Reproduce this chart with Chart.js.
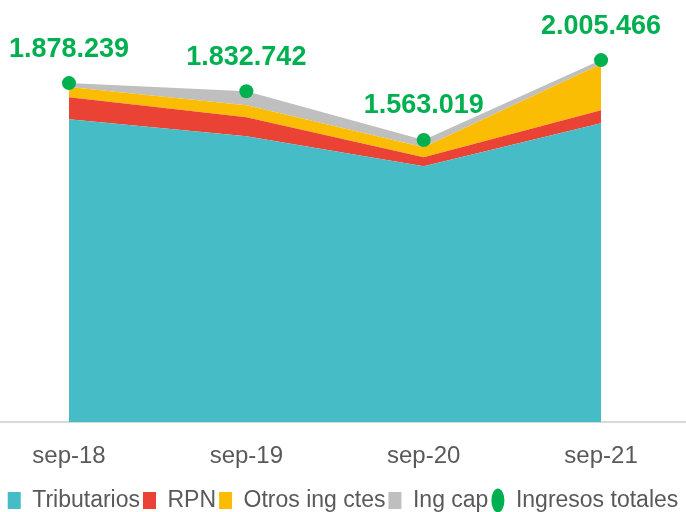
<!DOCTYPE html>
<html>
<head>
<meta charset="utf-8">
<script src="https://cdn.jsdelivr.net/npm/chart.js@4/dist/chart.umd.min.js"></script>
<style>
  html, body { margin: 0; padding: 0; background: #fff; }
  #wrap { width: 686px; height: 512px; }
</style>
</head>
<body>
<div id="wrap"><canvas id="chart"></canvas></div>
<script>
let labels = ['sep-18', 'sep-19', 'sep-20', 'sep-21']

let tributarios = [1678000, 1584000, 1417000, 1656000]
let rpn = [122000, 105000, 50000, 72000]
let otros = [56000, 67000, 56000, 256000]
let ingCap = [22239, 76742, 40019, 21466]
let totales = [1878239, 1832742, 1563019, 2005466]

let ctx = document.getElementById('chart')

function pts(arr) {
    return arr.map((v, i) => ({ x: i, y: v }))
}

function fmt(n) {
    return String(n).replace(/\B(?=(\d{3})+(?!\d))/g, '.')
}

const totalLabels = {
    id: 'totalLabels',
    afterDatasetsDraw(chart) {
        let meta = chart.getDatasetMeta(4)
        let c = chart.ctx
        c.save()
        c.font = 'bold 27px "Liberation Sans", Arial, sans-serif'
        c.fillStyle = '#00B050'
        c.textAlign = 'center'
        c.textBaseline = 'middle'
        meta.data.forEach((el, i) => {
            c.fillText(fmt(totales[i]), el.x, el.y - 34)
        })
        c.restore()
    }
}

function area(label, arr, color, fill) {
    return {
        label: label,
        data: pts(arr),
        backgroundColor: color,
        borderColor: color,
        borderWidth: 0,
        pointRadius: 0,
        pointStyle: 'rect',
        fill: fill,
        stack: 'a',
        tension: 0
    }
}

new Chart(ctx, {
    type: 'line',
    data: {
        datasets: [
            area('Tributarios', tributarios, '#46BDC6', 'origin'),
            area('RPN', rpn, '#EA4335', '-1'),
            area('Otros ing ctes', otros, '#FBBC04', '-1'),
            area('Ing cap', ingCap, '#BFBFBF', '-1'),
            {
                label: 'Ingresos totales',
                data: pts(totales),
                showLine: false,
                pointRadius: 7,
                pointStyle: 'circle',
                backgroundColor: '#00B050',
                borderColor: '#00B050',
                borderWidth: 0,
                fill: false,
                stack: 'tot',
                order: -1
            }
        ]
    },
    options: {
        responsive: true,
        maintainAspectRatio: false,
        animation: false,
        layout: { autoPadding: false, padding: { top: 25, left: 0, right: 0, bottom: -10 } },
        plugins: {
            tooltip: { enabled: false },
            legend: {
                position: 'bottom',
                labels: {
                    usePointStyle: true,
                    pointStyleWidth: 13,
                    boxHeight: 17,
                    padding: 3,
                    color: '#595959',
                    font: { family: '"Liberation Sans", Arial, sans-serif', size: 23 },
                    sort: (a, b) => a.datasetIndex - b.datasetIndex
                }
            }
        },
        scales: {
            x: {
                type: 'linear',
                min: -0.389,
                max: 3.479,
                grid: { display: false },
                border: { display: true, color: '#D9D9D9', width: 2 },
                afterBuildTicks: (scale) => {
                    scale.ticks = labels.map((l, i) => ({ value: i }))
                },
                afterFit: (scale) => {
                    scale.paddingLeft = 0
                    scale.paddingRight = 0
                    scale.height += 3
                },
                ticks: {
                    autoSkip: false,
                    maxRotation: 0,
                    padding: 12,
                    color: '#595959',
                    font: { family: '"Liberation Sans", Arial, sans-serif', size: 24 },
                    callback: (v) => labels[v] !== undefined ? labels[v] : ''
                }
            },
            y: {
                display: false,
                stacked: true,
                min: 0,
                max: 2200000
            }
        }
    },
    plugins: [totalLabels]
})
</script>
</body>
</html>
